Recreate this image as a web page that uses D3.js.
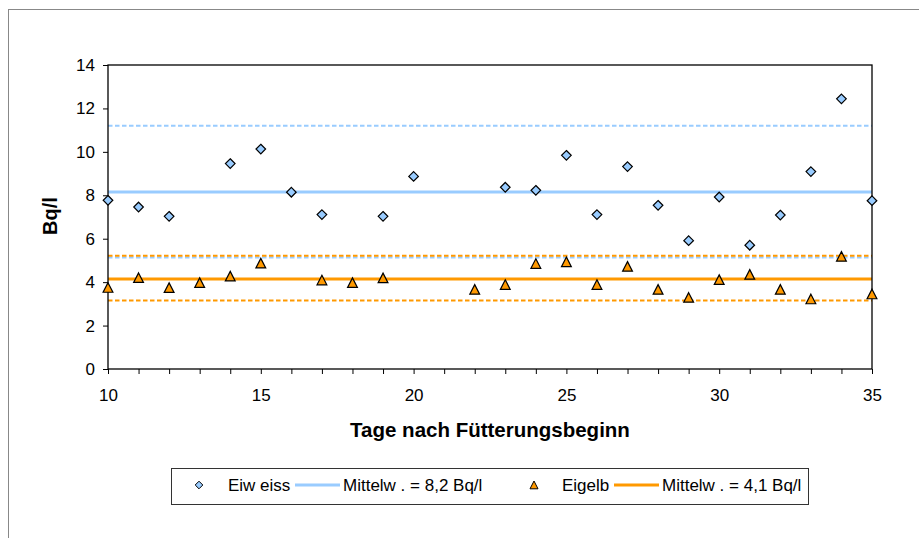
<!DOCTYPE html>
<html>
<head>
<meta charset="utf-8">
<script src="https://cdn.jsdelivr.net/npm/d3@7/dist/d3.min.js"></script>
<style>
html, body { margin: 0; padding: 0; background: #fff; }
svg { display: block; font-family: "Liberation Sans", Arial, sans-serif; }
</style>
</head>
<body>
<svg id="chart" width="919" height="538"></svg>
<script>
// ---- data ----
const eiweissDays   = [10, 11, 12, 14, 15, 16, 17, 19, 20, 23, 24, 25, 26, 27, 28, 29, 30, 31, 32, 33, 34, 35];
const eiweissValues = [7.77, 7.46, 7.03, 9.46, 10.13, 8.14, 7.11, 7.03, 8.87, 8.37, 8.23, 9.84, 7.11, 9.32, 7.54, 5.91, 7.92, 5.70, 7.09, 9.09, 12.44, 7.75];
const eigelbDays    = [10, 11, 12, 13, 14, 15, 17, 18, 19, 22, 23, 24, 25, 26, 27, 28, 29, 30, 31, 32, 33, 34, 35];
const eigelbValues  = [3.75, 4.20, 3.74, 3.97, 4.27, 4.87, 4.09, 3.97, 4.19, 3.66, 3.88, 4.85, 4.93, 3.88, 4.72, 3.66, 3.29, 4.11, 4.35, 3.66, 3.22, 5.18, 3.45];
const eiweissMean = 8.15;
const eiweissBand = [11.2, 5.13];
const eigelbMean = 4.14;
const eigelbBand = [5.22, 3.15];
const yTicks = [0, 2, 4, 6, 8, 10, 12, 14];
const xTicks = d3.range(10, 36);
const xLabelTicks = [10, 15, 20, 25, 30, 35];
const legendLabels = ["Eiw eiss", "Mittelw . = 8,2 Bq/l", "Eigelb", "Mittelw . = 4,1 Bq/l"];
const xTitle = "Tage nach Fütterungsbeginn";
const yTitle = "Bq/l";

// ---- layout ----
const svg = d3.select("#chart");
const L = 108, R = 872, T = 65, B = 369;
const blue = "#99CCFF", orange = "#FF9900";

const x = d3.scaleLinear().domain([10, 35]).range([L, R]);
const y = d3.scaleLinear().domain([0, 14]).range([B, T]);

// outer chart frame
svg.append("rect").attr("x", 8.5).attr("y", 9.5).attr("width", 1000).attr("height", 1000)
  .attr("fill", "none").attr("stroke", "#888").attr("stroke-width", 1);

// axes
const yAxis = svg.append("g").attr("transform", `translate(${L},0)`)
  .call(d3.axisLeft(y).tickValues(yTicks).tickSize(5).tickPadding(8).tickFormat(d3.format("d")));
const xAxis = svg.append("g").attr("transform", `translate(0,${B})`)
  .call(d3.axisBottom(x).tickValues(xTicks).tickSize(5).tickPadding(15)
    .tickFormat(d => xLabelTicks.includes(d) ? d : ""));
[yAxis, xAxis].forEach(g => {
  g.select(".domain").remove();
  g.selectAll("line").attr("stroke", "#000");
  g.selectAll("text").attr("fill", "#000").style("font-size", "17px")
    .style("font-family", "'Liberation Sans', Arial, sans-serif");
});

// mean + band lines
function hline(v, color, width, dash) {
  svg.append("line").attr("x1", x(10)).attr("x2", x(35)).attr("y1", y(v)).attr("y2", y(v))
    .attr("stroke", color).attr("stroke-width", width).attr("stroke-dasharray", dash || null);
}
eiweissBand.forEach(v => hline(v, blue, 2, "4.5,2.5"));
eigelbBand.forEach(v => hline(v, orange, 2, "4.5,2.5"));
hline(eiweissMean, blue, 3);
hline(eigelbMean, orange, 3);

// plot border
svg.append("rect").attr("x", L).attr("y", T).attr("width", R - L).attr("height", B - T)
  .attr("fill", "none").attr("stroke", "#000").attr("stroke-width", 1.3);

// markers
const diamond = s => `M0,${-s}L${s},0L0,${s}L${-s},0Z`;
const triangle = s => `M0,${-s}L${s},${s * 0.95}L${-s},${s * 0.95}Z`;

svg.append("g").selectAll("path").data(eiweissDays.map((d, i) => [d, eiweissValues[i]]))
  .join("path").attr("d", diamond(4.8))
  .attr("transform", d => `translate(${x(d[0])},${y(d[1])})`)
  .attr("fill", blue).attr("stroke", "#000").attr("stroke-width", 1.2);

svg.append("g").selectAll("path").data(eigelbDays.map((d, i) => [d, eigelbValues[i]]))
  .join("path").attr("d", triangle(4.9))
  .attr("transform", d => `translate(${x(d[0])},${y(d[1])})`)
  .attr("fill", orange).attr("stroke", "#000").attr("stroke-width", 1.2);

// titles
svg.append("text").attr("x", 490).attr("y", 437).attr("text-anchor", "middle")
  .style("font-size", "20.5px").style("font-weight", "bold").text(xTitle);
svg.append("text").attr("transform", "translate(57,216) rotate(-90)").attr("text-anchor", "middle")
  .style("font-size", "20px").style("font-weight", "bold").text(yTitle);

// legend
svg.append("rect").attr("x", 171.5).attr("y", 468.5).attr("width", 637).attr("height", 36)
  .attr("fill", "#fff").attr("stroke", "#333").attr("stroke-width", 1);
const ly = 485;
const lg = svg.append("g").style("font-size", "17px");
lg.append("path").attr("d", diamond(3.8)).attr("transform", `translate(199,${ly})`)
  .attr("fill", blue).attr("stroke", "#000");
lg.append("text").attr("x", 228).attr("y", ly + 6).text(legendLabels[0]);
lg.append("line").attr("x1", 295).attr("x2", 340).attr("y1", ly).attr("y2", ly)
  .attr("stroke", blue).attr("stroke-width", 3);
lg.append("text").attr("x", 343).attr("y", ly + 6).text(legendLabels[1]);
lg.append("path").attr("d", triangle(4)).attr("transform", `translate(534,${ly})`)
  .attr("fill", orange).attr("stroke", "#000");
lg.append("text").attr("x", 562).attr("y", ly + 6).text(legendLabels[2]);
lg.append("line").attr("x1", 614).attr("x2", 659).attr("y1", ly).attr("y2", ly)
  .attr("stroke", orange).attr("stroke-width", 3);
lg.append("text").attr("x", 662).attr("y", ly + 6).text(legendLabels[3]);
</script>
</body>
</html>
